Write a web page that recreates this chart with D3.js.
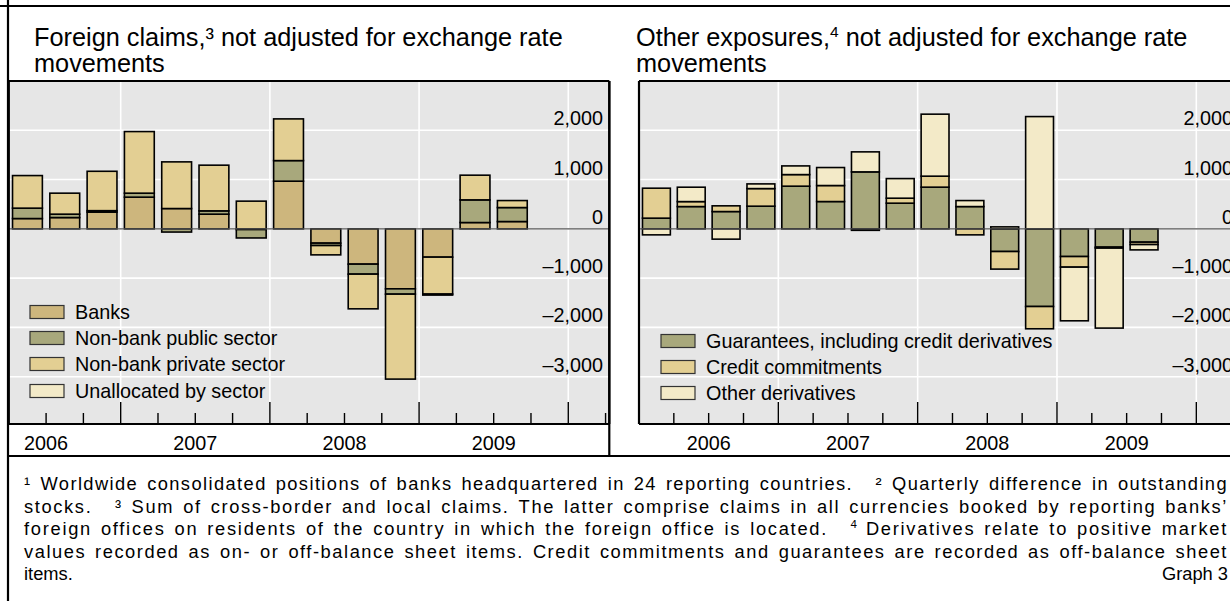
<!DOCTYPE html>
<html><head><meta charset="utf-8">
<script src="https://cdn.jsdelivr.net/npm/d3@7"></script>
<style>
html,body{margin:0;padding:0;background:#fff;}
svg text{font-family:"Liberation Sans",Arial,Helvetica,sans-serif;fill:#000;}
</style></head>
<body>
<svg id="c" width="1230" height="601"></svg>
<script>
// ---------- DATA ----------
const quartersLeft = ["2006Q2","2006Q3","2006Q4","2007Q1","2007Q2","2007Q3","2007Q4","2008Q1","2008Q2","2008Q3","2008Q4","2009Q1","2009Q2","2009Q3"];
const banks        = [209, 229, 339, 643, 412, 298, -15, 967, -290, -716, -1217, -574, 128, 148];
const nonBankPublic  = [211, 69, 30, 81, -65, 67, -170, 418, -49, -203, -108, 0, 460, 284];
const nonBankPrivate = [661, 426, 799, 1250, 947, 927, 562, 846, -189, -704, -1724, -750, 501, 142];
const unallocated    = [0, 0, 0, 0, 0, 0, 0, 0, 0, 0, 0, -20, 0, 0];

const quartersRight = ["2006Q1","2006Q2","2006Q3","2006Q4","2007Q1","2007Q2","2007Q3","2007Q4","2008Q1","2008Q2","2008Q3","2008Q4","2009Q1","2009Q2","2009Q3"];
const guarantees  = [217, 452, 351, 460, 866, 554, 1156, 521, 846, 452, -460, -1576, -562, -371, -270];
const creditCommit = [608, 101, 116, 357, 235, 325, -30, 101, 223, -122, -357, -452, -215, -20, -49];
const otherDeriv  = [-122, 292, -209, 95, 176, 365, 406, 398, 1258, 122, 40, 2278, -1089, -1623, -108];

const yTicks = [2000, 1000, 0, -1000, -2000, -3000];
const yTickLabels = ["2,000", "1,000", "0", "\u20131,000", "\u20132,000", "\u20133,000"];
const years = [2006, 2007, 2008, 2009];

const leftSeries = [
  {name:"Banks", values:banks, color:"#cdb67d"},
  {name:"Non-bank public sector", values:nonBankPublic, color:"#a8a87c"},
  {name:"Non-bank private sector", values:nonBankPrivate, color:"#e3cf93"},
  {name:"Unallocated by sector", values:unallocated, color:"#f3eac8"}
];
const rightSeries = [
  {name:"Guarantees, including credit derivatives", values:guarantees, color:"#a8a87c"},
  {name:"Credit commitments", values:creditCommit, color:"#e3cf93"},
  {name:"Other derivatives", values:otherDeriv, color:"#f3eac8"}
];

// ---------- DRAW ----------
const svg = d3.select("#c");
svg.append("rect").attr("width",1230).attr("height",601).attr("fill","#fff");
const FS = 19.8;

const qToYear = q => +q.slice(0,4) + (+q.slice(5)-0.5)/4;

function panel(opts){
  const {x, y, quarters, series, labelX, legendX, legendRows, legendTextX} = opts;
  const g = svg.append("g");
  const [x0,x1] = x.range();
  const [yb, yt] = y.range();
  g.append("rect").attr("x",x0).attr("y",yt).attr("width",x1-x0).attr("height",yb-yt).attr("fill","#e6e6e6");
  g.selectAll(".hg").data(yTicks).join("line")
    .attr("x1",x0).attr("x2",x1).attr("y1",d=>y(d)).attr("y2",d=>y(d))
    .attr("stroke","#fff").attr("stroke-width",1.6);
  g.selectAll(".vg").data(years.map(d=>d+1)).join("line")
    .attr("x1",d=>x(d)).attr("x2",d=>x(d)).attr("y1",yt).attr("y2",yb)
    .attr("stroke","#fff").attr("stroke-width",1.6);
  g.selectAll(".yl").data(yTicks).join("text")
    .attr("x",labelX).attr("y",d=>y(d)-5).attr("text-anchor","end")
    .attr("font-size",FS).text((d,i)=>yTickLabels[i]);
  series.forEach((s,i)=>{
    const cy = legendRows[i];
    g.append("rect").attr("x",legendX).attr("y",cy-6.5).attr("width",34).attr("height",13)
      .attr("fill",s.color).attr("stroke","#333").attr("stroke-width",1.2);
    g.append("text").attr("x",legendTextX).attr("y",cy+7).attr("font-size",FS).text(s.name);
  });
  const table = quarters.map((q,i)=>{
    const o = {q}; series.forEach(s=>o[s.name]=s.values[i]); return o;
  });
  const stack = d3.stack().keys(series.map(s=>s.name)).offset(d3.stackOffsetDiverging)(table);
  const bw = (x(2007)-x(2006))/4*0.8;
  stack.forEach((layer,li)=>{
    g.append("g").selectAll("rect").data(layer.filter(d=>d[1]!==d[0])).join("rect")
      .attr("x",d=>x(qToYear(d.data.q))-bw/2).attr("width",bw)
      .attr("y",d=>y(Math.max(d[0],d[1]))).attr("height",d=>Math.abs(y(d[0])-y(d[1])))
      .attr("fill",series[li].color).attr("stroke","#000").attr("stroke-width",1.6);
  });
  g.append("line").attr("x1",x0).attr("x2",x1).attr("y1",y(0)).attr("y2",y(0))
    .attr("stroke","#555").attr("stroke-width",1.4);
  const qt = [];
  for(let yr=2006; yr<=2010.5; yr+=0.25){ if(x(yr)>x0+1 && x(yr)<x1-1) qt.push(yr); }
  g.selectAll(".xt").data(qt).join("line")
    .attr("x1",d=>x(d)).attr("x2",d=>x(d)).attr("y1",yb)
    .attr("y2",d=> Number.isInteger(d) ? yb-22 : yb-11)
    .attr("stroke","#000").attr("stroke-width",1.4);
  g.selectAll(".yr").data(years).join("text")
    .attr("x",d=>x(d+0.5)).attr("y",yb+26).attr("text-anchor","middle")
    .attr("font-size",FS).text(d=>d);
  g.append("line").attr("x1",x0).attr("x2",x1).attr("y1",yt).attr("y2",yt).attr("stroke","#000").attr("stroke-width",2.2);
  g.append("line").attr("x1",x0).attr("x2",x1).attr("y1",yb).attr("y2",yb).attr("stroke","#000").attr("stroke-width",2.2);
  g.append("line").attr("x1",x0).attr("x2",x0).attr("y1",yt).attr("y2",yb).attr("stroke","#000").attr("stroke-width",2.2);
  g.append("line").attr("x1",x1).attr("x2",x1).attr("y1",yt).attr("y2",yb).attr("stroke","#000").attr("stroke-width",2.2);
}

const yScale = d3.scaleLinear().domain([-3960, 3000]).range([424, 81]);
const xLeft = d3.scaleLinear().domain([2006.25, 2010.275]).range([8.8, 609.3]);
const xRight = d3.scaleLinear().domain([2006, 2010.31]).range([639, 1239.5]);

panel({x:xLeft, y:yScale, quarters:quartersLeft, series:leftSeries, labelX:603,
  legendX:30, legendRows:[312,338,364,391], legendTextX:75});
panel({x:xRight, y:yScale, quarters:quartersRight, series:rightSeries, labelX:1233,
  legendX:661, legendRows:[341,367,393], legendTextX:706});

// outer frame
svg.append("line").attr("x1",0).attr("x2",1230).attr("y1",6).attr("y2",6).attr("stroke","#000").attr("stroke-width",2.2);
svg.append("line").attr("x1",8).attr("x2",8).attr("y1",0).attr("y2",601).attr("stroke","#000").attr("stroke-width",2.2);
svg.append("line").attr("x1",8).attr("x2",1230).attr("y1",456).attr("y2",456).attr("stroke","#000").attr("stroke-width",2.2);
svg.append("line").attr("x1",609.3).attr("x2",609.3).attr("y1",81).attr("y2",456).attr("stroke","#000").attr("stroke-width",2.2);

// titles
const TFS = 25.3;
const t1 = svg.append("text").attr("font-size",TFS);
t1.append("tspan").attr("x",34).attr("y",46).text("Foreign claims,\u00b3 not adjusted for exchange rate");
t1.append("tspan").attr("x",34).attr("y",72).text("movements");
const t2 = svg.append("text").attr("font-size",TFS);
t2.append("tspan").attr("x",636).attr("y",46).text("Other exposures,");
t2.append("tspan").attr("font-size",15.5).attr("dy",-9).text("4");
t2.append("tspan").attr("dy",9).text(" not adjusted for exchange rate");
t2.append("tspan").attr("x",636).attr("y",72).text("movements");

// footnotes (justified with letter and word spacing)
const fnLines = [
  [["\u00b9",0],["Worldwide",1],["consolidated",1],["positions",1],["of",1],["banks",1],["headquartered",1],["in",1],["24",1],["reporting",1],["countries.",1],["\u00b2",2.5],["Quarterly",1],["difference",1],["in",1],["outstanding",1]],
  [["stocks.",0],["\u00b3",2.5],["Sum",1],["of",1],["cross-border",1],["and",1],["local",1],["claims.",1],["The",1],["latter",1],["comprise",1],["claims",1],["in",1],["all",1],["currencies",1],["booked",1],["by",1],["reporting",1],["banks\u2019",1]],
  [["foreign",0],["offices",1],["on",1],["residents",1],["of",1],["the",1],["country",1],["in",1],["which",1],["the",1],["foreign",1],["office",1],["is",1],["located.",1],["^4",2.5],["Derivatives",1],["relate",1],["to",1],["positive",1],["market",1]],
  [["values",0],["recorded",1],["as",1],["on-",1],["or",1],["off-balance",1],["sheet",1],["items.",1],["Credit",1],["commitments",1],["and",1],["guarantees",1],["are",1],["recorded",1],["as",1],["off-balance",1],["sheet",1]]
];
const fnY = [490, 512.5, 535, 557.5];
const fx0 = 24, fx1 = 1228, fs = 18.3, gap = 9;
const fg = svg.append("g").attr("font-size",fs);
fnLines.forEach((tokens,li)=>{
  const els = tokens.map(([t,w])=>{
    const el = fg.append("text").attr("y",fnY[li]);
    let txt = t;
    if(t.startsWith("^")){ txt = t.slice(1); el.attr("font-size",11.5).attr("dy",-7).text(txt); }
    else el.text(txt);
    return {el, w, n: txt.length, len: el.node().getComputedTextLength(), sup: t.startsWith("^")};
  });
  const total = d3.sum(els, d=>d.len);
  const wsum = d3.sum(els, d=>d.w);
  const nch = d3.sum(els, d=>d.sup ? 0 : d.n);
  let ls = (fx1-fx0-total-gap*wsum)/nch;
  if(ls < 0) ls = 0;
  els.forEach(d=>{ if(!d.sup){ d.el.attr("letter-spacing",ls); d.len2 = d.len + ls*d.n; } else d.len2 = d.len; });
  const total2 = d3.sum(els, d=>d.len2);
  const unit = (fx1-fx0-total2)/wsum;
  let cx = fx0;
  els.forEach(d=>{ cx += d.w*unit; d.el.attr("x",cx); cx += d.len2; });
});
fg.append("text").attr("x",fx0).attr("y",580).text("items.");
fg.append("text").attr("x",fx1).attr("y",580).attr("text-anchor","end").text("Graph 3");
</script>
</body></html>
